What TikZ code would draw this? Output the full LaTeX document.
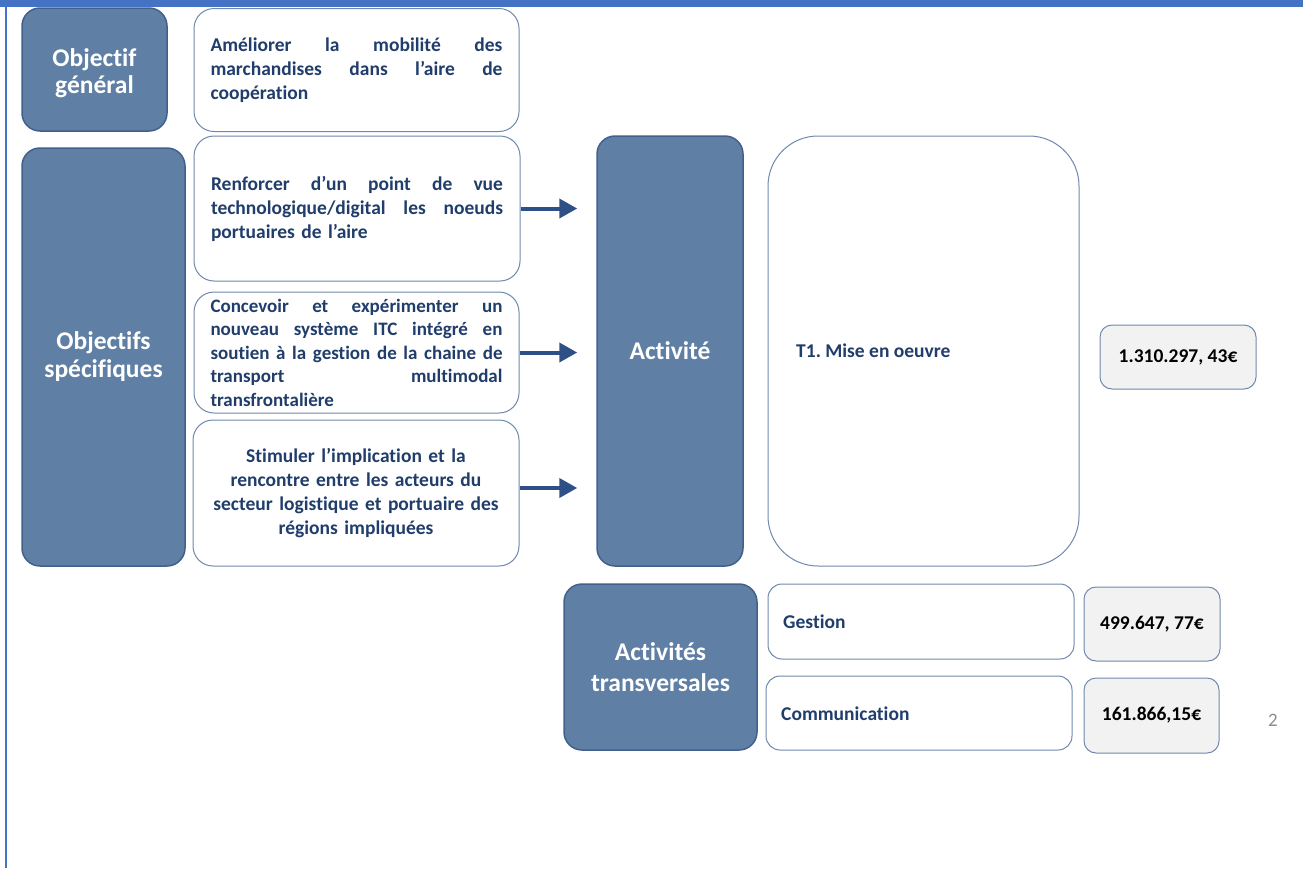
\documentclass[tikz,border=0pt]{standalone}
\usepackage{fontspec}
\setmainfont{Carlito}[Ligatures=NoCommon]
\usetikzlibrary{arrows.meta}
\frenchspacing

\definecolor{framebar}{HTML}{4472C4}
\definecolor{darkfill}{HTML}{5F7FA4}
\definecolor{darkedge}{HTML}{41618C}
\definecolor{boxedge}{HTML}{6F88AD}
\definecolor{bodytext}{HTML}{203D6B}
\definecolor{arrowblue}{HTML}{2F5087}
\definecolor{amountfill}{HTML}{F2F2F2}
\definecolor{pagegray}{HTML}{8C8C8C}

\newcommand{\titlesize}{\fontsize{25.5}{28}\selectfont\bfseries}
\newcommand{\bodysize}{\fontsize{19.5}{24}\selectfont\bfseries}
% one fully justified line: words are separated by \hfill
\newcommand{\jline}[1]{\makebox[292pt][l]{#1}}

\tikzset{
  darkbox/.style={draw=darkedge, fill=darkfill, line width=1.5pt,
    rounded corners=18pt, inner sep=0pt, text=white, font=\titlesize, align=center},
  whitebox/.style={draw=boxedge, fill=white, line width=1pt,
    rounded corners=20pt, inner sep=0pt, text=bodytext, font=\bodysize},
  amountbox/.style={draw=boxedge, fill=amountfill, line width=1pt,
    rounded corners=12pt, inner sep=0pt, text=black, font=\bodysize},
  plain/.style={inner sep=0pt, text=bodytext, font=\bodysize},
  flow/.style={draw=arrowblue, line width=4pt,
    -{Triangle[length=18pt,width=19pt]}, shorten >=19pt},
}

\begin{document}
\begin{tikzpicture}[x=1pt, y=-1pt]
  \useasboundingbox (0,0) rectangle (1303,868);
  % slide frame
  \fill[framebar] (0,0) rectangle (1303,7);
  \fill[framebar] (4.5,0) rectangle (7,868);

  % left column
  \node[darkbox, minimum width=145pt, minimum height=123pt] (og) at (94.5,69.5) {};
  \node[inner sep=0pt, text=white, align=center,
        font=\fontsize{25.5}{27}\selectfont\bfseries] (ogl) at (94.5,73.5)
    {Objectif\\général};
  \node[darkbox, minimum width=163pt, minimum height=418pt] (os) at (103.5,357)
    {Objectifs\\spécifiques};

  % objectives
  \node[whitebox, minimum width=325pt, minimum height=123pt, text width=292pt,
        align=left] (b1) at (356.5,70)
    {\jline{Améliorer\hfill la\hfill mobilité\hfill des}\\
     \jline{marchandises\hfill dans\hfill l’aire\hfill de}\\
     coopération};
  \node[whitebox, minimum width=326pt, minimum height=145pt, text width=292pt,
        align=left] (b2) at (357,208.5)
    {\jline{Renforcer\hfill d’un\hfill point\hfill de\hfill vue}\\
     \jline{technologique/digital\hfill les\hfill noeuds}\\
     portuaires de l’aire};
  \node[whitebox, minimum width=325pt, minimum height=121pt, text width=292pt,
        align=left, font=\fontsize{19}{23.5}\selectfont\bfseries] (b3) at (356.5,352.5)
    {\jline{Concevoir\hfill et\hfill expérimenter\hfill un}\\
     \jline{nouveau\hfill système\hfill ITC\hfill intégré\hfill en}\\
     \jline{soutien\hfill à\hfill la\hfill gestion\hfill de\hfill la\hfill chaine\hfill de}\\
     \jline{transport\hfill multimodal}\\
     transfrontalière};
  \node[whitebox, minimum width=326pt, minimum height=146pt, text width=292pt,
        align=center] (b4) at (356,493)
    {Stimuler l’implication et la\\rencontre entre les acteurs du\\secteur logistique et portuaire des\\régions impliquées};

  % activity
  \node[darkbox, minimum width=146pt, minimum height=430pt] (act) at (670,351)
    {Activité};
  \node[whitebox, rounded corners=50pt, minimum width=311pt, minimum height=430pt]
    (big) at (923.5,351) {};
  \node[plain, anchor=west] (t1) at (796,351) {T1. Mise en oeuvre};
  \node[amountbox, minimum width=156pt, minimum height=64pt] (a1) at (1178,357)
    {1.310.297, 43€};

  % arrows into the activity
  \draw[flow] (b2.east) -- (b2.east -| act.west);
  \draw[flow] (b3.east) -- (b3.east -| act.west);
  \draw[flow] ([yshift=5pt]b4.east) -- ([yshift=5pt]b4.east -| act.west);

  % cross-cutting activities
  \node[darkbox, minimum width=193pt, minimum height=166pt,
        font=\fontsize{25.5}{31}\selectfont\bfseries] (tr) at (660.5,667)
    {Activités\\transversales};
  \node[whitebox, rounded corners=14pt, minimum width=306pt, minimum height=75pt]
    (ges) at (921,621.5) {};
  \node[plain, anchor=west] (gesl) at (783,622) {Gestion};
  \node[amountbox, minimum width=136pt, minimum height=74pt] (a2) at (1152,624)
    {499.647, 77€};
  \node[whitebox, rounded corners=14pt, minimum width=306pt, minimum height=74pt]
    (com) at (919,713) {};
  \node[plain, anchor=west] (coml) at (781,714) {Communication};
  \node[amountbox, minimum width=135pt, minimum height=75pt] (a3) at (1151.5,715.5)
    {161.866,15€};

  % page number
  \node[inner sep=0pt, text=pagegray, font=\fontsize{19}{22}\selectfont] (pg)
    at (1273,720) {2};
\end{tikzpicture}
\end{document}
